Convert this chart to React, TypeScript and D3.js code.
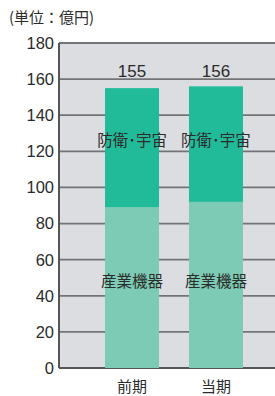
import React from "react";
import * as d3 from "d3";

const categories = ["前期", "当期"];
const industrial = [89, 92];
const defense = [66, 64];
const totals = [155, 156];
const yTicks = [0, 20, 40, 60, 80, 100, 120, 140, 160, 180];

export default function App() {
  const width = 275;
  const height = 396;
  const margin = { top: 43, right: 0, bottom: 28, left: 59 };
  const cjk = "'Noto Sans CJK JP', sans-serif";
  const num = "'Liberation Sans', Arial, sans-serif";

  const x = d3.scaleBand()
    .domain(categories)
    .range([margin.left, 289])
    .paddingInner(0.357)
    .paddingOuter(0.548);

  const y = d3.scaleLinear()
    .domain([0, 180])
    .range([height - margin.bottom, margin.top]);

  return (
    <svg width={width} height={height}
      style={{ position: "absolute", left: 0, top: 0 }}>
      <rect x={margin.left} y={y(180)} width={width - margin.left}
        height={y(0) - y(180)} fill="#dcdde0" />
      {yTicks.map(t => (
        <g key={t}>
          <line x1={margin.left} x2={width} y1={y(t)} y2={y(t)}
            stroke="#737477" strokeWidth={1.8} />
          <text x={54} y={y(t)} dy="0.36em" textAnchor="end"
            fontFamily={num} fontSize={16.5} fill="#2b2b2b">{t}</text>
        </g>
      ))}
      <line x1={margin.left} x2={margin.left} y1={y(180)} y2={y(0)}
        stroke="#555" strokeWidth={2} />
      <line x1={margin.left} x2={width} y1={y(0)} y2={y(0)}
        stroke="#555" strokeWidth={2} />
      {categories.map((c, i) => {
        const bx = x(c)!;
        const bw = x.bandwidth();
        const cx = bx + bw / 2;
        return (
          <g key={c}>
            <rect x={bx} y={y(industrial[i])} width={bw}
              height={y(0) - y(industrial[i])} fill="#7dcbb4" />
            <rect x={bx} y={y(industrial[i] + defense[i])} width={bw}
              height={y(industrial[i]) - y(industrial[i] + defense[i])} fill="#22bb9a" />
            <text x={cx} y={71} dy="0.36em" textAnchor="middle"
              fontFamily={num} fontSize={17} fill="#2b2b2b">{totals[i]}</text>
            <text x={cx} y={140} dy="0.36em" textAnchor="middle"
              fontFamily={cjk} fontSize={15.5} fill="#2b2b2b">防衛･宇宙</text>
            <text x={cx} y={281} dy="0.36em" textAnchor="middle"
              fontFamily={cjk} fontSize={15.5} fill="#2b2b2b">産業機器</text>
            <text x={cx} y={387} dy="0.36em" textAnchor="middle"
              fontFamily={cjk} fontSize={15} fill="#2b2b2b">{c}</text>
          </g>
        );
      })}
      <text x={9} y={18} dy="0.36em" fontFamily={cjk} fontSize={15}
        fill="#2b2b2b">(単位：億円)</text>
    </svg>
  );
}
